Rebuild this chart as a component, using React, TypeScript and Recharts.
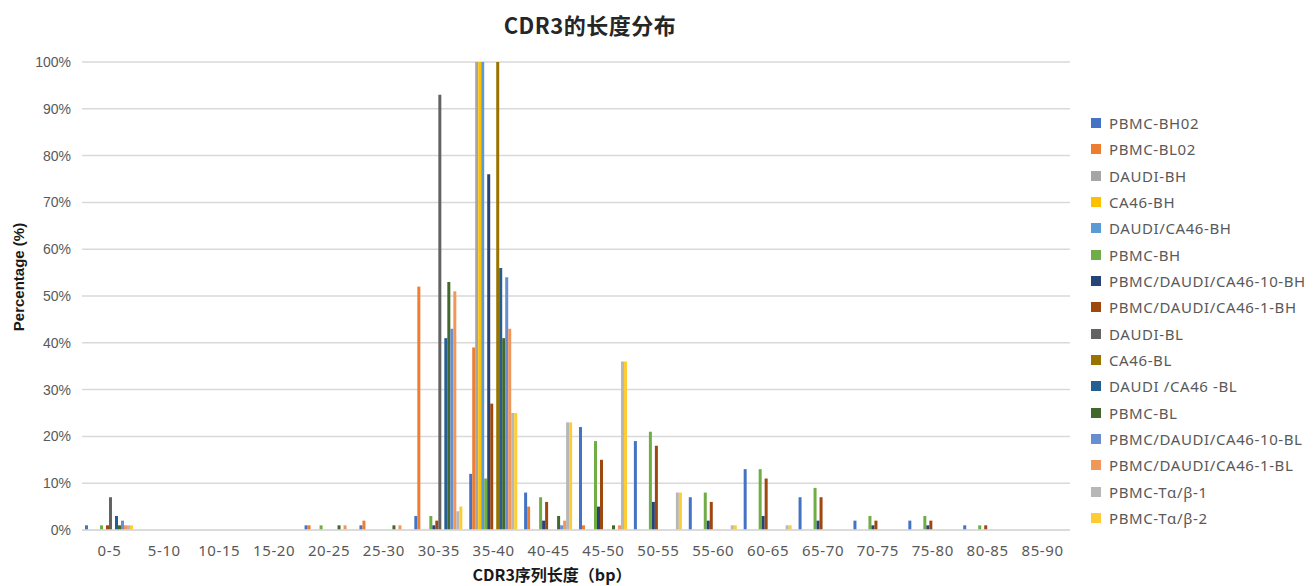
/**
 * CDR3 length distribution - clustered column chart
 */

import React from 'react';
import { BarChart, Bar, XAxis, YAxis, CartesianGrid, Legend } from 'recharts';

const categories = [
  '0-5', '5-10', '10-15', '15-20', '20-25', '25-30', '30-35', '35-40', '40-45',
  '45-50', '50-55', '55-60', '60-65', '65-70', '70-75', '75-80', '80-85', '85-90',
];

// values in %, one per category
const pbmcBH02 = [1, 0, 0, 0, 1, 1, 3, 12, 8, 22, 19, 7, 13, 7, 2, 2, 1, 0];
const pbmcBL02 = [0, 0, 0, 0, 1, 2, 52, 39, 5, 1, 0, 0, 0, 0, 0, 0, 0, 0];
const daudiBH = [0, 0, 0, 0, 0, 0, 0, 100, 0, 0, 0, 0, 0, 0, 0, 0, 0, 0];
const ca46BH = [0, 0, 0, 0, 0, 0, 0, 100, 0, 0, 0, 0, 0, 0, 0, 0, 0, 0];
const daudiCa46BH = [0, 0, 0, 0, 0, 0, 0, 100, 0, 0, 0, 0, 0, 0, 0, 0, 0, 0];
const pbmcBH = [1, 0, 0, 0, 1, 0, 3, 11, 7, 19, 21, 8, 13, 9, 3, 3, 1, 0];
const mix10BH = [0, 0, 0, 0, 0, 0, 1, 76, 2, 5, 6, 2, 3, 2, 1, 1, 0, 0];
const mix1BH = [1, 0, 0, 0, 0, 0, 2, 27, 6, 15, 18, 6, 11, 7, 2, 2, 1, 0];
const daudiBL = [7, 0, 0, 0, 0, 0, 93, 0, 0, 0, 0, 0, 0, 0, 0, 0, 0, 0];
const ca46BL = [0, 0, 0, 0, 0, 0, 0, 100, 0, 0, 0, 0, 0, 0, 0, 0, 0, 0];
const daudiCa46BL = [3, 0, 0, 0, 0, 0, 41, 56, 0, 0, 0, 0, 0, 0, 0, 0, 0, 0];
const pbmcBL = [1, 0, 0, 0, 1, 1, 53, 41, 3, 1, 0, 0, 0, 0, 0, 0, 0, 0];
const mix10BL = [2, 0, 0, 0, 0, 0, 43, 54, 1, 0, 0, 0, 0, 0, 0, 0, 0, 0];
const mix1BL = [1, 0, 0, 0, 1, 1, 51, 43, 2, 1, 0, 0, 0, 0, 0, 0, 0, 0];
const pbmcTab1 = [1, 0, 0, 0, 0, 0, 4, 25, 23, 36, 8, 1, 1, 0, 0, 0, 0, 0];
const pbmcTab2 = [1, 0, 0, 0, 0, 0, 5, 25, 23, 36, 8, 1, 1, 0, 0, 0, 0, 0];

const seriesNames = [
  'PBMC-BH02', 'PBMC-BL02', 'DAUDI-BH', 'CA46-BH', 'DAUDI/CA46-BH', 'PBMC-BH',
  'PBMC/DAUDI/CA46-10-BH', 'PBMC/DAUDI/CA46-1-BH', 'DAUDI-BL', 'CA46-BL',
  'DAUDI /CA46 -BL', 'PBMC-BL', 'PBMC/DAUDI/CA46-10-BL', 'PBMC/DAUDI/CA46-1-BL',
  'PBMC-Tα/β-1', 'PBMC-Tα/β-2',
];

const seriesValues = [
  pbmcBH02, pbmcBL02, daudiBH, ca46BH, daudiCa46BH, pbmcBH, mix10BH, mix1BH,
  daudiBL, ca46BL, daudiCa46BL, pbmcBL, mix10BL, mix1BL, pbmcTab1, pbmcTab2,
];

const yTicks = [0, 10, 20, 30, 40, 50, 60, 70, 80, 90, 100];

const colors = [
  '#4472C4', '#ED7D31', '#A5A5A5', '#FFC000', '#5B9BD5', '#70AD47', '#264478', '#9E480E',
  '#636363', '#997300', '#255E91', '#43682B', '#698ED0', '#F1975A', '#B7B7B7', '#FFCD33',
];

const data = categories.map((name, i) => {
  const row: Record<string, any> = { name };
  seriesValues.forEach((vals, s) => {
    row[`s${s}`] = vals[i];
  });
  return row;
});

const sansFont = '"Noto Sans", sans-serif';

const renderLegend = () => (
  <div style={{ fontFamily: sansFont, fontSize: 15, color: '#595959' }}>
    {seriesNames.map((name, i) => (
      <div key={name} style={{ display: 'flex', alignItems: 'center', height: 26.33 }}>
        <span
          style={{ width: 10, height: 10, background: colors[i], marginRight: 8, flexShrink: 0 }}
        />
        <span style={{ whiteSpace: 'nowrap', letterSpacing: 0.6 }}>{name}</span>
      </div>
    ))}
  </div>
);

export default function App() {
  return (
    <div style={{ position: 'absolute', left: 0, top: 0, width: 1316, height: 586, background: '#fff' }}>
      <div
        style={{
          position: 'absolute', left: 590, top: 8, transform: 'translateX(-50%)',
          fontFamily: '"Noto Sans CJK SC", sans-serif', fontWeight: 700, fontSize: 22,
          color: '#262626', whiteSpace: 'nowrap', letterSpacing: 0.5,
        }}
      >
        CDR3的长度分布
      </div>
      <div
        style={{
          position: 'absolute', left: 18, top: 277, transform: 'translate(-50%, -50%) rotate(-90deg)',
          fontFamily: '"Liberation Sans", Arial, sans-serif', fontWeight: 700, fontSize: 15,
          color: '#1a1a1a', whiteSpace: 'nowrap',
        }}
      >
        Percentage (%)
      </div>
      <div
        style={{
          position: 'absolute', left: 552, top: 574, transform: 'translate(-50%, -50%)',
          fontFamily: '"Noto Sans CJK SC", sans-serif', fontWeight: 700, fontSize: 16,
          lineHeight: '20px', color: '#1a1a1a', whiteSpace: 'nowrap',
        }}
      >
        CDR3序列长度（bp）
      </div>
      <BarChart
        width={1316}
        height={586}
        data={data}
        margin={{ top: 62, right: 246, bottom: 26, left: 0 }}
        barGap={0}
        barSize={3}
      >
        <CartesianGrid vertical={false} stroke="#D9D9D9" strokeWidth={1.5} />
        <XAxis
          dataKey="name"
          height={30}
          axisLine={{ stroke: '#D9D9D9', strokeWidth: 1.5 }}
          tickLine={false}
          tickSize={0}
          tickMargin={15}
          interval={0}
          tick={{ fill: '#595959', fontSize: 15, fontFamily: sansFont, letterSpacing: 0.6 }}
        />
        <YAxis
          width={82}
          domain={[0, 100]}
          ticks={yTicks}
          axisLine={false}
          tickLine={false}
          tickSize={0}
          tickMargin={11}
          tickFormatter={(v) => `${v}%`}
          tick={{ fill: '#595959', fontSize: 14, fontFamily: '"Liberation Sans", Arial, sans-serif' }}
        />
        <Legend
          content={renderLegend}
          layout="vertical"
          align="center"
          verticalAlign="middle"
          wrapperStyle={{ left: 1091, top: 110, width: 225 }}
        />
        {seriesNames.map((name, i) => (
          <Bar key={name} dataKey={`s${i}`} name={name} fill={colors[i]} isAnimationActive={false} />
        ))}
      </BarChart>
    </div>
  );
}
